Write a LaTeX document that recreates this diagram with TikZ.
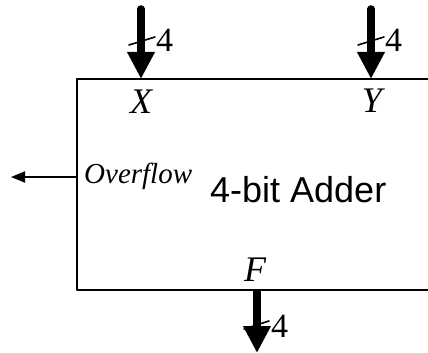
\documentclass[tikz,border=0pt]{standalone}
\usepackage{fontspec}
\setmainfont{Liberation Serif}
\newfontfamily\addfont{Liberation Sans}
\usetikzlibrary{arrows.meta,positioning}

\tikzset{
  bus/.style={line width=7.5pt, line cap=round, -{Triangle[length=27pt,width=26pt]}},
  slash/.style={line width=1.6pt},
  width/.style={inner sep=0pt, anchor=base west, font=\fontsize{34}{34}\selectfont},
  port/.style={inner sep=0pt, anchor=base, font=\fontsize{36}{36}\selectfont\itshape},
}

\begin{document}
\begin{tikzpicture}[x=1pt, y=-1pt, line join=round, line cap=round]
	\useasboundingbox (0,0) rectangle (428,353);
	\clip (0,0) rectangle (428,353);
	% adder box, open at the right
	\coordinate (tr) at (440,79);
	\coordinate (tl) at (77,79);
	\coordinate (bl) at (77,290);
	\coordinate (br) at (440,290);
	\draw[line width=2pt, line cap=butt] (tr) -- (tl) -- (bl) -- (br);
	\node[inner sep=0pt, anchor=base west, font=\fontsize{36}{36}\addfont] (adder) at (210,202) {4-bit Adder};
	% ports
	\node[port] (X) at (141,113) {X};
	\node[port] (Y) at (372,112) {Y};
	\node[port] (F) at (255,281) {F};
	\node[inner sep=0pt, anchor=base west, font=\fontsize{29}{29}\selectfont\itshape] (ovf) at (84,183) {Overflow};
	% buses
	\coordinate (xs) at (141,9);
	\coordinate (xe) at (141,79);
	\coordinate (ys) at (371,9);
	\coordinate (ye) at (371,79);
	\coordinate (fs) at (257,290);
	\coordinate (fe) at (257,353);
	\draw[bus] (xs) -- (xe);
	\draw[bus] (ys) -- (ye);
	\draw[bus, line cap=butt] (fs) -- (fe);
	% bus widths
	\coordinate (xa) at (129,45); \coordinate (xb) at (155,37);
	\coordinate (ya) at (358,45); \coordinate (yb) at (384,37);
	\coordinate (fa) at (244,329); \coordinate (fb) at (269,321);
	\draw[slash] (xa) -- (xb);
	\draw[slash] (ya) -- (yb);
	\draw[slash] (fa) -- (fb);
	\node[width] (xw) at (156,52) {4};
	\node[width] (yw) at (385,52) {4};
	\node[width] (fw) at (271,337) {4};
	% overflow out
	\coordinate (ov) at (77,177);
	\coordinate (oe) at (11,177);
	\draw[line width=2pt, -{Triangle[length=14pt,width=11pt]}] (ov) -- (oe);
\end{tikzpicture}
\end{document}
